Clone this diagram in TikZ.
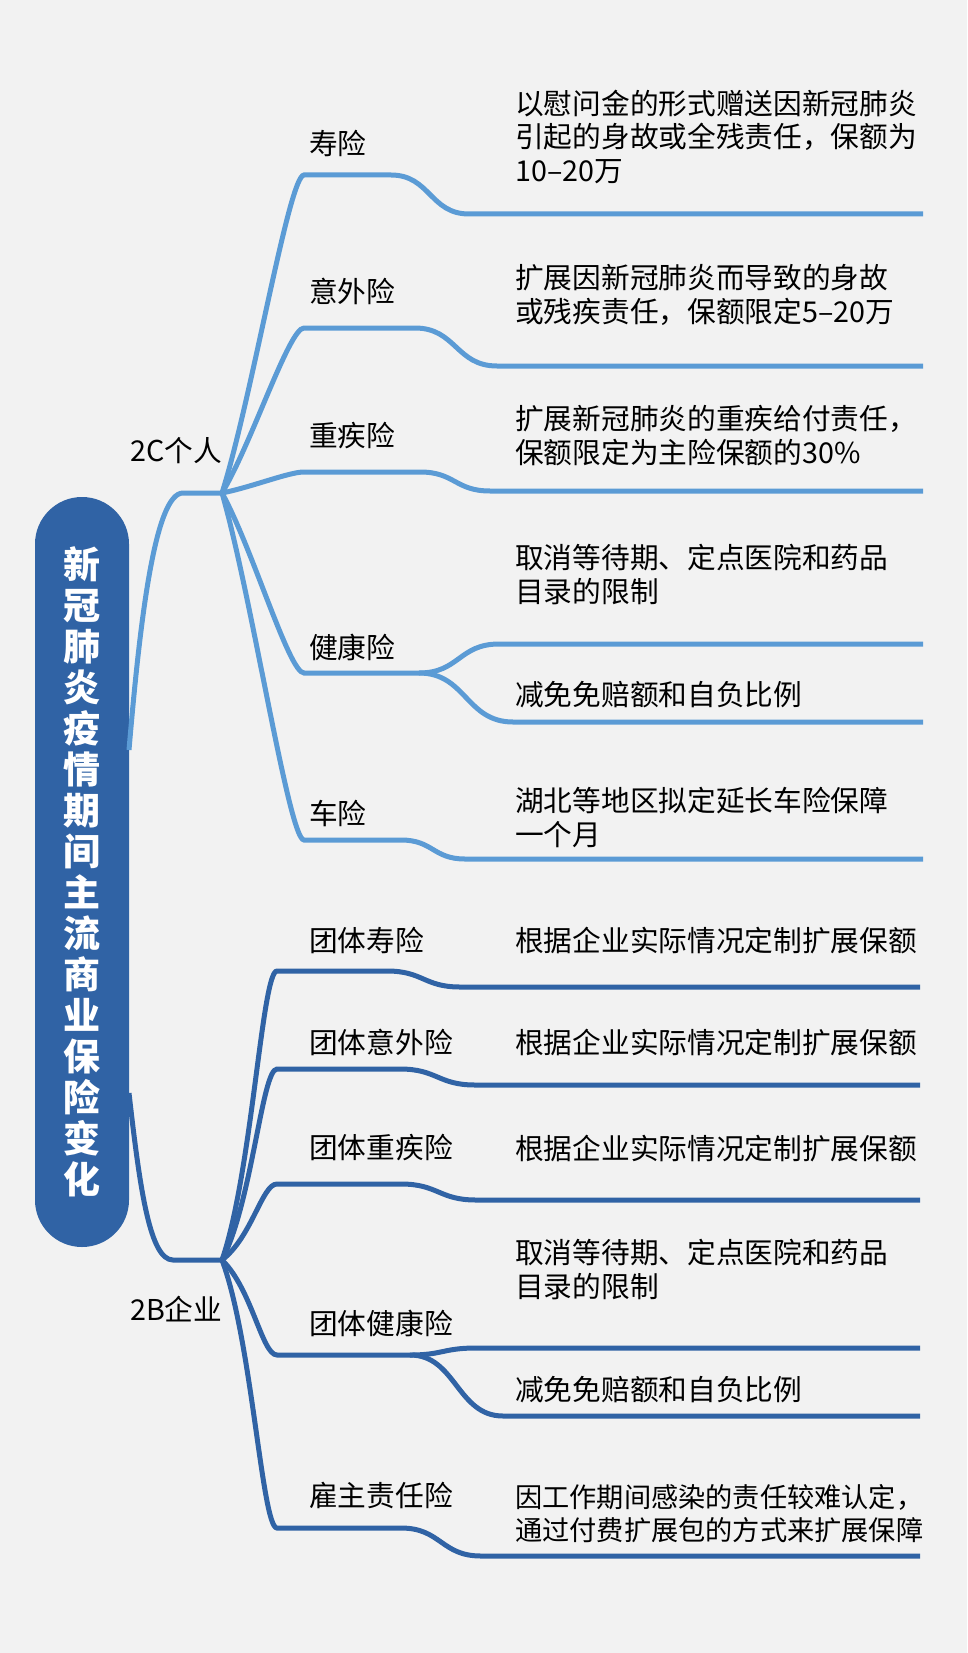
\documentclass[tikz,border=0pt]{standalone}
\usepackage{fontspec}
\setmainfont{Noto Sans CJK SC}
\begin{document}
\begin{tikzpicture}[x=1pt,y=1pt,
  lite/.style={draw=lightline,line width=5pt},
  deep/.style={draw=deepline,line width=5pt},
  topic/.style={anchor=west,inner sep=0pt,font=\fontsize{28.7}{33.5}\selectfont},
  note/.style={topic,align=left}]
 \definecolor{paper}{HTML}{F2F2F2}
 \definecolor{lightline}{HTML}{5B9BD5}
 \definecolor{deepline}{HTML}{3063A5}
 \useasboundingbox (0,0) rectangle (967,-1653);
 \fill [paper] (0,0) rectangle (967,-1653);
 \node [fill=deepline,rounded corners=47pt,minimum width=94pt,minimum height=750pt,inner sep=0pt,
  text=white,align=center,font=\fontsize{37}{41}\selectfont\bfseries] (root) at (82,-872)
  {新\\冠\\肺\\炎\\疫\\情\\期\\间\\主\\流\\商\\业\\保\\险\\变\\化};
 % 2C
 \coordinate (rootc) at (129,-750);
 \coordinate (hubc) at (222,-493);
 \draw [lite] (rootc) .. controls +(11,130) and +(-28,0) .. (183,-493) -- (hubc);
 \node [topic] (pc) at (130,-451) {2C个人};
 \coordinate (c1) at (304,-175);
 \coordinate (c1e) at (923,-214);
 \draw [lite] (hubc) .. controls +(30,95) and +(-15,0) .. (c1) -- (391,-175)
  .. controls +(39,0) and +(-39,0) .. (469,-214) -- (c1e);
 \coordinate (c2) at (304,-328);
 \coordinate (c2e) at (923,-366);
 \draw [lite] (hubc) .. controls +(30,50) and +(-15,0) .. (c2) -- (415,-328)
  .. controls +(41,0) and +(-41,0) .. (497,-366) -- (c2e);
 \coordinate (c3) at (304,-472);
 \coordinate (c3e) at (923,-491);
 \draw [lite] (hubc) .. controls +(30,6) and +(-15,0) .. (c3) -- (420,-472)
  .. controls +(35,0) and +(-35,0) .. (490,-491) -- (c3e);
 \coordinate (c4) at (304,-673);
 \coordinate (c4s) at (419,-673);
 \coordinate (c4u) at (923,-644);
 \coordinate (c4d) at (923,-722);
 \draw [lite] (hubc) .. controls +(30,-54) and +(-15,0) .. (c4) -- (c4s);
 \draw [lite] (c4s) .. controls +(40,0) and +(-40,0) .. (499,-644) -- (c4u);
 \draw [lite] (c4s) .. controls +(47,0) and +(-47,0) .. (513,-722) -- (c4d);
 \coordinate (c5) at (304,-840);
 \coordinate (c5e) at (923,-859);
 \draw [lite] (hubc) .. controls +(30,-104) and +(-15,0) .. (c5) -- (401,-840)
  .. controls +(32,0) and +(-32,0) .. (465,-859) -- (c5e);
 \node [topic] (shou) at (309,-143) {寿险};
 \node [note] (shoun) at (515,-136.5) {以慰问金的形式赠送因新冠肺炎\\引起的身故或全残责任，保额为\\10–20万};
 \node [topic] (yiwai) at (309,-291) {意外险};
 \node [note] (yiwain) at (515,-295) {扩展因新冠肺炎而导致的身故\\或残疾责任，保额限定5–20万};
 \node [topic] (zhongji) at (309,-436) {重疾险};
 \node [note] (zhongjin) at (515,-435.5) {扩展新冠肺炎的重疾给付责任，\\保额限定为主险保额的30\%};
 \node [topic] (jiankang) at (309,-647) {健康险};
 \node [note] (jiankangu) at (515,-574.5) {取消等待期、定点医院和药品\\目录的限制};
 \node [note] (jiankangd) at (515,-695) {减免免赔额和自负比例};
 \node [topic] (che) at (309,-813) {车险};
 \node [note] (chen) at (515,-817.5) {湖北等地区拟定延长车险保障\\一个月};
 % 2B
 \coordinate (rootb) at (129,-1093);
 \coordinate (hubb) at (222,-1260);
 \draw [deep] (rootb) .. controls +(11,-97) and +(-23,0) .. (173,-1260) -- (hubb);
 \node [topic] (pb) at (130,-1309) {2B企业};
 \coordinate (b1) at (277,-971);
 \coordinate (b1e) at (920,-987);
 \draw [deep] (hubb) .. controls +(30,87) and +(-15,0) .. (b1) -- (387,-971)
  .. controls +(36,0) and +(-36,0) .. (460,-987) -- (b1e);
 \coordinate (b2) at (277,-1069);
 \coordinate (b2e) at (920,-1085);
 \draw [deep] (hubb) .. controls +(30,57) and +(-15,0) .. (b2) -- (400,-1069)
  .. controls +(37,0) and +(-37,0) .. (475,-1085) -- (b2e);
 \coordinate (b3) at (277,-1184);
 \coordinate (b3e) at (920,-1200);
 \draw [deep] (hubb) .. controls +(30,23) and +(-15,0) .. (b3) -- (401,-1184)
  .. controls +(37,0) and +(-37,0) .. (476,-1200) -- (b3e);
 \coordinate (b4) at (277,-1355);
 \coordinate (b4s) at (410,-1355);
 \coordinate (b4u) at (920,-1348);
 \coordinate (b4d) at (920,-1416);
 \draw [deep] (hubb) .. controls +(30,-29) and +(-15,0) .. (b4) -- (b4s);
 \draw [deep] (b4s) .. controls +(33,0) and +(-33,0) .. (476,-1348) -- (b4u);
 \draw [deep] (b4s) .. controls +(46,0) and +(-46,0) .. (503,-1416) -- (b4d);
 \coordinate (b5) at (277,-1528);
 \coordinate (b5e) at (920,-1556);
 \draw [deep] (hubb) .. controls +(30,-80) and +(-15,0) .. (b5) -- (401,-1528)
  .. controls +(40,0) and +(-40,0) .. (481,-1556) -- (b5e);
 \node [topic] (tshou) at (309,-940) {团体寿险};
 \node [note] (tshoun) at (515,-941) {根据企业实际情况定制扩展保额};
 \node [topic] (tyiwai) at (309,-1042) {团体意外险};
 \node [note] (tyiwain) at (515,-1043) {根据企业实际情况定制扩展保额};
 \node [topic] (tzhongji) at (309,-1148) {团体重疾险};
 \node [note] (tzhongjin) at (515,-1149) {根据企业实际情况定制扩展保额};
 \node [topic] (tjiankang) at (309,-1323) {团体健康险};
 \node [note] (tjiankangu) at (515,-1269.5) {取消等待期、定点医院和药品\\目录的限制};
 \node [note] (tjiankangd) at (515,-1390) {减免免赔额和自负比例};
 \node [topic] (guzhu) at (309,-1495) {雇主责任险};
 \node [note,font=\fontsize{27.2}{33.5}\selectfont] (guzhun) at (515,-1513.5) {因工作期间感染的责任较难认定，\\通过付费扩展包的方式来扩展保障};
\end{tikzpicture}
\end{document}
